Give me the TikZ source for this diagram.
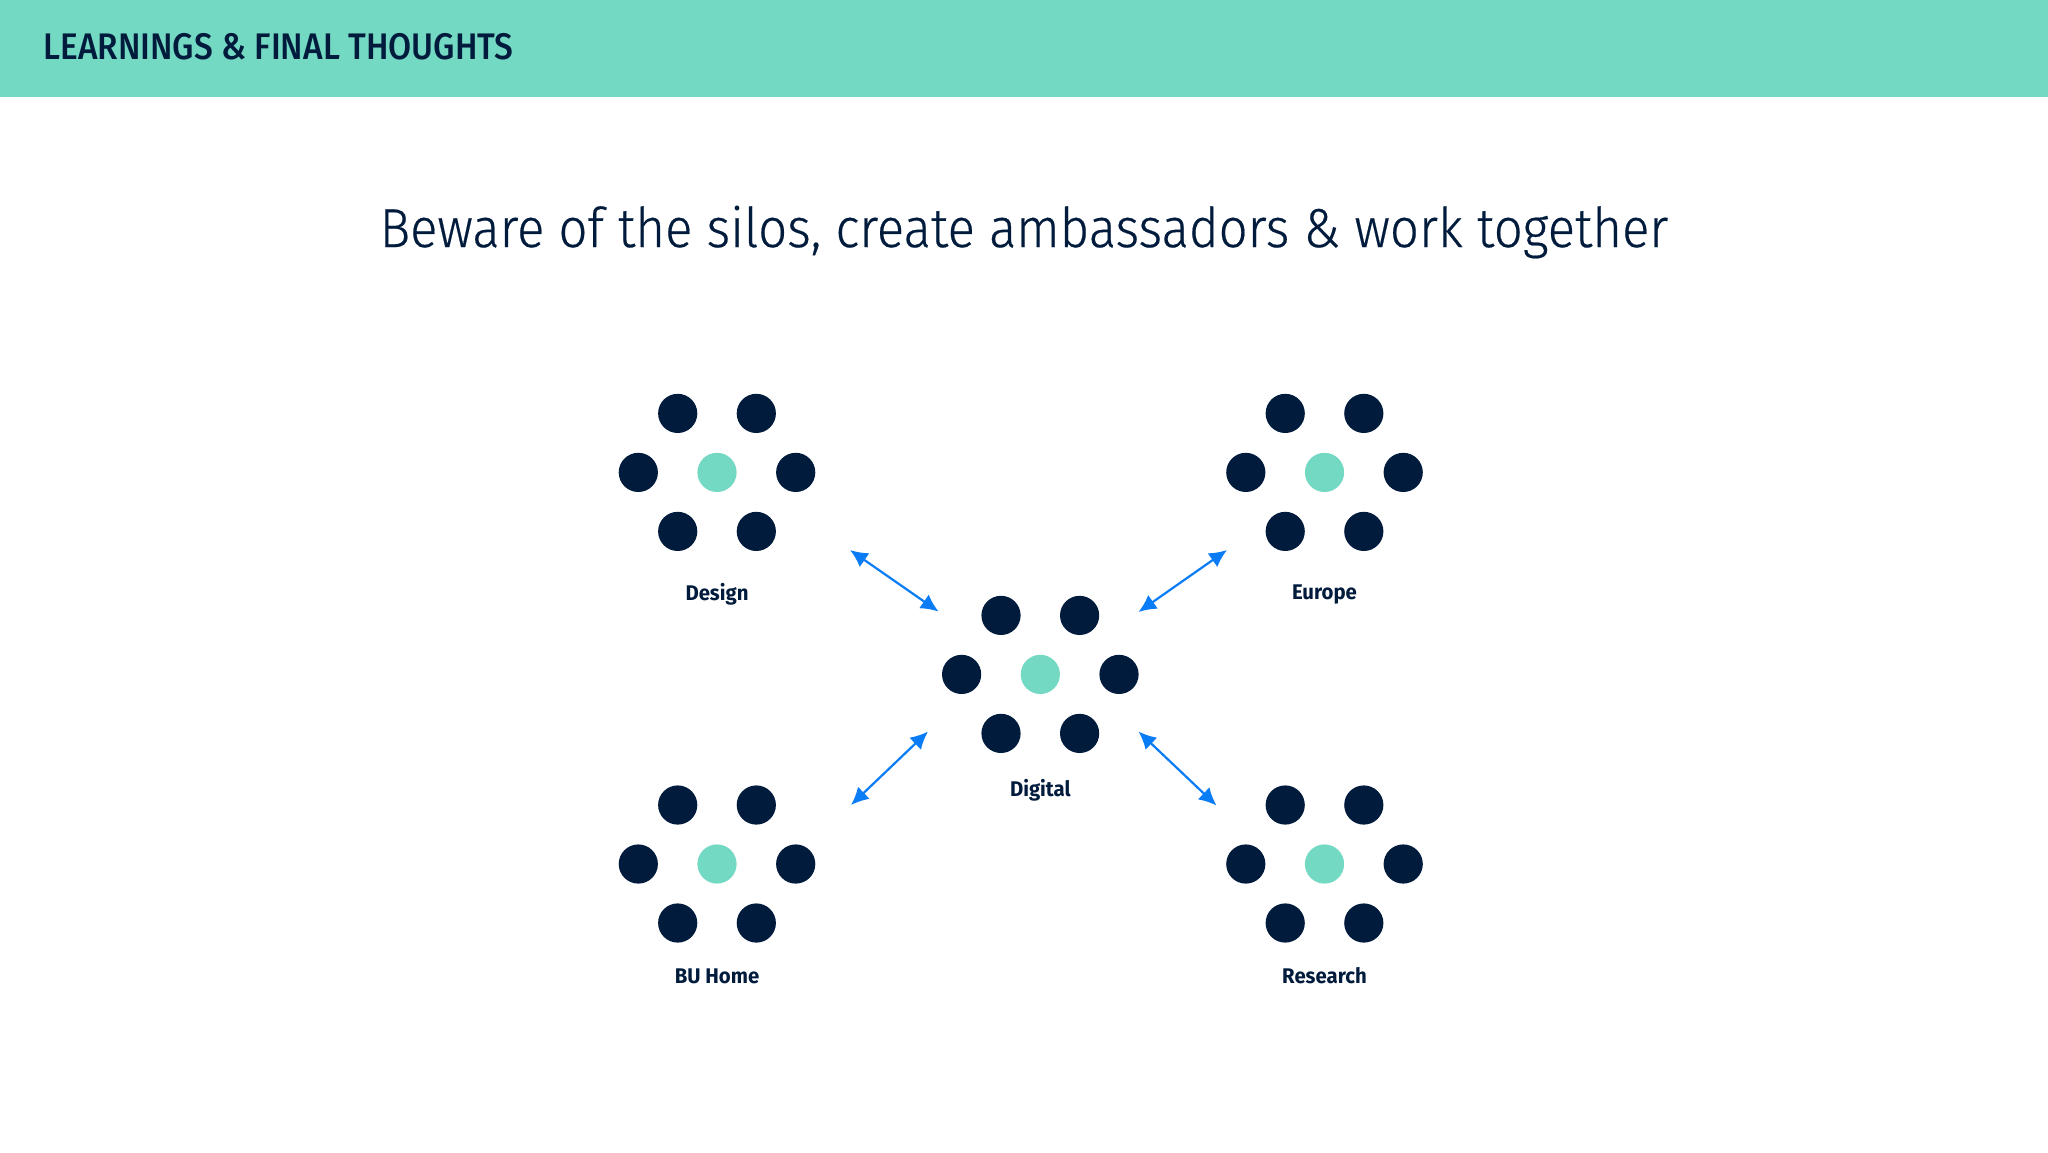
\documentclass[tikz,border=0pt]{standalone}
\usepackage{fontspec}
\setmainfont{Fira Sans}
\newfontfamily\headfont[FakeStretch=0.905]{Fira Sans Medium}
\newfontfamily\titlefont[FakeStretch=0.925,FakeBold=0.35]{Fira Sans Light}
\newfontfamily\labelfont[FakeStretch=0.96,BoldFont={Fira Sans Bold}]{Fira Sans}
\definecolor{band}{HTML}{74D9C2}
\definecolor{navy}{HTML}{011B3D}
\definecolor{linkblue}{HTML}{0A7CF5}
\usetikzlibrary{arrows.meta}
\tikzset{
  x=0.5pt,y=-0.5pt,
  dotnavy/.style={circle,fill=navy,draw=none,minimum size=19.6pt,inner sep=0pt},
  dotmint/.style={circle,fill=band,draw=none,minimum size=19.6pt,inner sep=0pt},
  grouplabel/.style={text=navy,inner sep=0pt,font=\labelfont\bfseries\fontsize{10.6}{12}\selectfont},
  link/.style={draw=linkblue,line width=1.1pt,{Latex[length=8.8pt,width=8.4pt]}-{Latex[length=8.8pt,width=8.4pt]}}
}
\newcommand{\dotcluster}[3]{%
  \node[dotmint] (#1c) at (#2,#3) {};
  \node[dotnavy] (#1a) at (#2-39.3,#3-59) {};
  \node[dotnavy] (#1b) at (#2+39.3,#3-59) {};
  \node[dotnavy] (#1d) at (#2-78.7,#3) {};
  \node[dotnavy] (#1e) at (#2+78.7,#3) {};
  \node[dotnavy] (#1f) at (#2-39.3,#3+59) {};
  \node[dotnavy] (#1g) at (#2+39.3,#3+59) {};
}
\begin{document}
\begin{tikzpicture}
\useasboundingbox (0,0) rectangle (2048,1152);
\fill[white] (0,0) rectangle (2048,1152);
\fill[band] (0,0) rectangle (2048,96.7);
\node[anchor=base west,inner sep=0pt,text=navy,font=\headfont\fontsize{18.5}{20}\selectfont] (head) at (43,59) {LEARNINGS \& FINAL THOUGHTS};
\node[anchor=center,inner sep=0pt,text=navy,font=\titlefont\fontsize{27.5}{32}\selectfont] (title) at (1024,232) {Beware of the silos, create ambassadors \& work together};
\dotcluster{des}{717}{472.4}
\dotcluster{eur}{1324.5}{472.4}
\dotcluster{dig}{1040.3}{674.4}
\dotcluster{bu}{717}{864}
\dotcluster{res}{1324.5}{864}
\node[grouplabel] (ldes) at (717,594.5) {Design};
\node[grouplabel] (leur) at (1324.5,594.5) {Europe};
\node[grouplabel] (ldig) at (1040.3,790.5) {Digital};
\node[grouplabel] (lbu) at (717,976) {BU Home};
\node[grouplabel] (lres) at (1324.5,976) {Research};
\coordinate (a1) at (850,550); \coordinate (a2) at (938.5,611.5);
\coordinate (b1) at (1227,550); \coordinate (b2) at (1138.5,612);
\coordinate (c1) at (851,805); \coordinate (c2) at (928,731.5);
\coordinate (d1) at (1216.5,805.5); \coordinate (d2) at (1138.5,731.5);
\draw[link] (a1) -- (a2);
\draw[link] (b1) -- (b2);
\draw[link] (c1) -- (c2);
\draw[link] (d1) -- (d2);
\end{tikzpicture}
\end{document}
